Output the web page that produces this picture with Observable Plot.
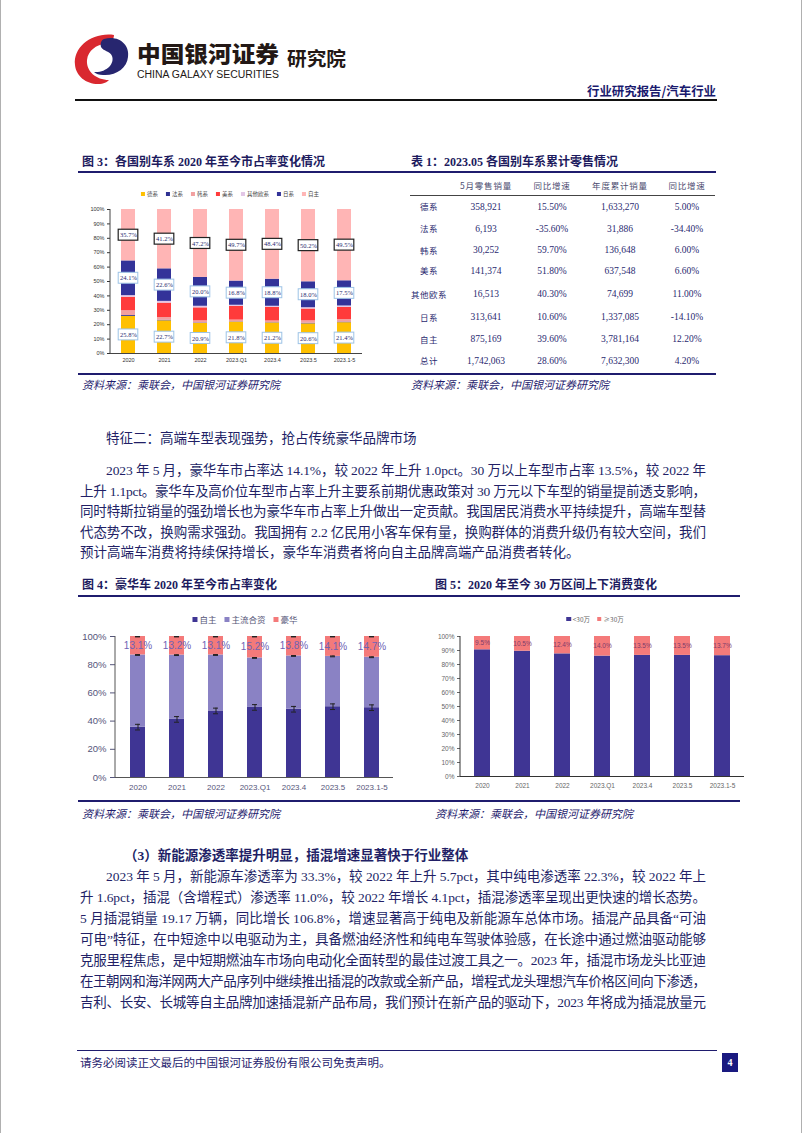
<!DOCTYPE html>
<html><head><meta charset="utf-8">
<script src="https://cdn.jsdelivr.net/npm/d3@7"></script>
<script src="https://cdn.jsdelivr.net/npm/@observablehq/plot@0.6"></script>
<style>
body{margin:0;background:#fff;}
#page{position:relative;width:802px;height:1133px;overflow:hidden;background:#fff;font-family:"Liberation Serif","Noto Sans CJK SC",serif;color:#221f66;}
.abs{position:absolute;white-space:pre;}
.legend{position:absolute;display:flex;align-items:center;white-space:nowrap;transform:translate(-50%,-50%);}
.legend span.sw{display:inline-block;margin-right:2px;}
.legend span.it{display:inline-flex;align-items:center;}
</style></head>
<body><div id="page"></div>
<script>
// ---------------- data ----------------
const cats = ["2020","2021","2022","2023.Q1","2023.4","2023.5","2023.1-5"];

// Figure 3: market share by origin (%)
const fig3Series = ["德系","法系","韩系","美系","其他欧系","日系","自主"];
const fig3German   = [25.8,22.7,20.9,21.8,21.2,20.6,21.4];
const fig3French   = [0.6,0.4,0.3,0.2,0.2,0.4,0.4];
const fig3Korean   = [3.3,1.9,1.5,1.2,1.2,1.7,1.8];
const fig3American = [9.4,10.0,9.0,9.5,9.4,8.2,8.4];
const fig3OtherEU  = [1.1,1.2,1.1,0.8,0.8,0.9,1.0];
const fig3Japanese = [24.1,22.6,20.0,16.8,18.8,18.0,17.5];
const fig3Domestic = [35.7,41.2,47.2,49.7,48.4,50.2,49.5];
const fig3Colors = ["#FFC000","#2E3192","#F2A0A0","#FF3B3B","#E2C6E6","#333399","#FFB5B5"];
const fig3Labeled = ["德系","日系","自主"];

// Table 1
const tableHeader = ["5月零售销量","同比增速","年度累计销量","同比增速"];
const tableNames  = ["德系","法系","韩系","美系","其他欧系","日系","自主","总计"];
const tableMay    = ["358,921","6,193","30,252","141,374","16,513","313,641","875,169","1,742,063"];
const tableMayYoY = ["15.50%","-35.60%","59.70%","51.80%","40.30%","10.60%","39.60%","28.60%"];
const tableYtd    = ["1,633,270","31,886","136,648","637,548","74,699","1,337,085","3,781,164","7,632,300"];
const tableYtdYoY = ["5.00%","-34.40%","6.00%","6.60%","11.00%","-14.10%","12.20%","4.20%"];

// Figure 4: luxury share (%)
const fig4Series = ["自主","主流合资","豪华"];
const fig4Domestic = [35.7,41.2,47.2,49.7,48.4,50.2,49.5];
const fig4JV       = [51.2,45.6,39.7,35.1,37.8,35.7,35.8];
const fig4Luxury   = [13.1,13.2,13.1,15.2,13.8,14.1,14.7];
const fig4ErrorBar = [2.0,0.3,0.3];
const fig4Colors = ["#3F3594","#8A82C4","#F47A7A"];

// Figure 5: above / below 300k (%)
const fig5Series = ["<30万","≥30万"];
const fig5Below = [90.5,89.5,87.6,86.0,86.5,86.5,86.3];
const fig5Above = [9.5,10.5,12.4,14.0,13.5,13.5,13.7];
const fig5Colors = ["#3F3594","#F47A7A"];

// ---------------- helpers ----------------
const page = document.getElementById("page");
const NAVY = "#1f1c6e";
function box(x, y, w, h, color){
  const d = document.createElement("div");
  d.style.cssText = `position:absolute;left:${x}px;top:${y}px;width:${w}px;height:${h}px;background:${color};`;
  page.appendChild(d); return d;
}
function hline(x1, x2, y, h, color){ return box(x1, y - h/2, x2 - x1, h, color); }
function text(str, x, cy, o = {}){
  const d = document.createElement("div");
  d.className = "abs";
  d.textContent = str;
  const size = o.size || 13.5, lh = Math.round(size * 1.5);
  d.style.fontSize = size + "px";
  d.style.lineHeight = lh + "px";
  d.style.left = x + "px";
  d.style.top = (cy - lh/2) + "px";
  if (o.weight) d.style.fontWeight = o.weight;
  if (o.color) d.style.color = o.color;
  if (o.italic) d.style.fontStyle = "italic";
  if (o.family) d.style.fontFamily = o.family;
  if (o.spacing) d.style.letterSpacing = o.spacing + "px";
  if (o.anchor === "middle") d.style.transform = "translateX(-50%)";
  if (o.anchor === "end") d.style.transform = "translateX(-100%)";
  page.appendChild(d);
  if (o.width){
    const nat = d.getBoundingClientRect().width;
    const n = [...str].length;
    d.style.letterSpacing = ((o.width - nat) / (n - 1)) + "px";
  }
  return d;
}
function legend(items, colors, cx, cy, size, sw, gap, color){
  const d = document.createElement("div");
  d.className = "legend";
  d.style.left = cx + "px"; d.style.top = cy + "px";
  d.style.fontSize = size + "px"; d.style.color = color;
  d.style.fontFamily = '"Noto Sans CJK SC", sans-serif';
  d.style.gap = gap + "px";
  items.forEach((t, i) => {
    const it = document.createElement("span"); it.className = "it";
    const s = document.createElement("span"); s.className = "sw";
    s.style.width = sw + "px"; s.style.height = sw + "px"; s.style.background = colors[i];
    it.appendChild(s); it.appendChild(document.createTextNode(t));
    d.appendChild(it);
  });
  page.appendChild(d);
}
function mount(svg, left, top){
  const d = document.createElement("div");
  d.style.cssText = `position:absolute;left:${left}px;top:${top}px;`;
  d.appendChild(svg); page.appendChild(d);
}
function stackRows(series, arrays){
  const rows = [];
  cats.forEach((c, ci) => {
    let base = 0;
    series.forEach((s, si) => {
      const v = arrays[si][ci];
      rows.push({cat: c, series: s, si, value: v, lo: base, hi: base + v, mid: base + v/2});
      base += v;
    });
  });
  return rows;
}
// y-axis line drawn by a render-function mark
function axisLineY(color){
  return (index, scales, values, dims) => {
    const l = document.createElementNS("http://www.w3.org/2000/svg", "line");
    l.setAttribute("x1", dims.marginLeft); l.setAttribute("x2", dims.marginLeft);
    l.setAttribute("y1", dims.marginTop); l.setAttribute("y2", dims.height - dims.marginBottom);
    l.setAttribute("stroke", color);
    return l;
  };
}

// ---------------- page chrome ----------------
box(0, 0, 1, 1133, "#b0b0b0");
box(801, 0, 1, 1133, "#b0b0b0");

const hdr = document.createElement("div");
hdr.style.cssText = "position:absolute;left:0;top:0;";
hdr.innerHTML = `<svg width="802" height="105" xmlns="http://www.w3.org/2000/svg">
  <path d="M114 35 C92 32 73 47 75 65 C76 76 86 84 98 84 C104 84 107 82 109 80 C96 80 86 71 87 60 C88 50 97 45 104 44 C110 43 114 40 114 35 Z" fill="#d9282f"/>
  <path d="M104 39 C119 35 130 45 128 57 C127 68 116 76 103 75 C99 75 96 74 94 72 C106 73 115 64 112 56 C110 51 103 51 101 47 C100 44 101 40 104 39 Z" fill="#27266f"/>
  <text x="137" y="62" font-family="Noto Sans CJK SC" font-weight="900" font-size="22" fill="#231815" textLength="142" lengthAdjust="spacingAndGlyphs">中国银河证券</text>
  <text x="137" y="77.5" font-family="Liberation Sans Narrow, Liberation Sans" font-size="10" fill="#231815" textLength="142" lengthAdjust="spacingAndGlyphs">CHINA GALAXY SECURITIES</text>
  <text x="287" y="66" font-family="Noto Sans CJK SC" font-weight="700" font-size="19" fill="#231815" textLength="59" lengthAdjust="spacingAndGlyphs">研究院</text>
  <text x="716" y="96" text-anchor="end" font-family="Noto Sans CJK SC" font-weight="700" font-size="12.5" fill="#1a1a6e" textLength="129" lengthAdjust="spacingAndGlyphs">行业研究报告/汽车行业</text>
  <line x1="75" x2="717" y1="100" y2="100" stroke="#111" stroke-width="2"/>
</svg>`;
page.appendChild(hdr);

const TITLE = {size: 12, weight: 700, color: "#1d1b5e", family: '"Liberation Serif","Noto Sans CJK SC",serif'};
const SRC = {size: 11, italic: true, color: NAVY, family: '"Noto Sans CJK SC",sans-serif'};

// ---------------- Figure 3 ----------------
text("图 3：各国别车系 2020 年至今市占率变化情况", 82, 162, TITLE);
text("表 1：2023.05 各国别车系累计零售情况", 411, 162, TITLE);
hline(78, 716, 171.5, 2, NAVY);
hline(78, 716, 373.5, 2, NAVY);
text("资料来源：乘联会，中国银河证券研究院", 82, 384, SRC);
text("资料来源：乘联会，中国银河证券研究院", 411, 384, SRC);

legend(fig3Series, fig3Colors, 230, 193.5, 5.5, 4, 8, "#444");

const rows3 = stackRows(fig3Series, [fig3German, fig3French, fig3Korean, fig3American, fig3OtherEU, fig3Japanese, fig3Domestic]);
const lab3 = rows3.filter(d => fig3Labeled.includes(d.series));
const fig3 = Plot.plot({
  width: 315, height: 170,
  marginLeft: 30, marginRight: 33, marginTop: 9, marginBottom: 17,
  style: {fontFamily: "Liberation Sans, sans-serif", fontSize: "5.5px", color: "#333", background: "transparent", overflow: "visible"},
  x: {type: "band", domain: cats, paddingInner: 0.6, paddingOuter: 0.28, label: null, tickSize: 0, tickPadding: 5},
  y: {domain: [0, 100], ticks: d3.range(0, 101, 10), tickFormat: d => d + "%", label: null, tickSize: 3, tickPadding: 3},
  color: {domain: fig3Series, range: fig3Colors},
  marks: [
    Plot.barY(rows3, Plot.stackY({x: "cat", y: "value", fill: "series"})),
    Plot.ruleY([0], {stroke: "#444"}),
    axisLineY("#444"),
    Plot.barY(lab3.filter(d => d.series !== "自主"), {x: "cat", y1: d => d.mid - 3.8, y2: d => d.mid + 3.8, fill: "white", stroke: "#9DC3E6", strokeWidth: 1, insetLeft: -2.8, insetRight: -2.8}),
    Plot.barY(lab3.filter(d => d.series === "自主"), {x: "cat", y1: d => d.mid - 3.8, y2: d => d.mid + 3.8, fill: "white", stroke: "#222", strokeWidth: 1.2, insetLeft: -2.8, insetRight: -2.8}),
    Plot.text(lab3, {x: "cat", y: "mid", text: d => d.value.toFixed(1) + "%", fill: "#2a2a70", fontSize: 6.5, fontFamily: "Liberation Serif, serif"})
  ]
});
mount(fig3, 80, 200);

// ---------------- Table 1 ----------------
const colX = [429, 486, 552, 620, 687];
const HDR = {size: 8.5, color: "#4d4d70", anchor: "middle", spacing: 0.8, family: '"Noto Sans CJK SC",sans-serif'};
tableHeader.forEach((h, i) => text(h, colX[i + 1], 185, HDR));
hline(410, 715, 195.7, 1.6, "#444");
const rowY = [206.7, 228.7, 250, 270.7, 294, 317.3, 339.3, 360.7];
const NUM = {size: 9.5, color: "#2a2a70", anchor: "middle", family: '"Liberation Serif",serif'};
tableNames.forEach((n, r) => {
  text(n, colX[0], rowY[r], {size: 8.5, color: "#2a2a70", anchor: "middle", spacing: 0.5, family: '"Noto Sans CJK SC",sans-serif'});
  text(tableMay[r], colX[1], rowY[r], NUM);
  text(tableMayYoY[r], colX[2], rowY[r], NUM);
  text(tableYtd[r], colX[3], rowY[r], NUM);
  text(tableYtdYoY[r], colX[4], rowY[r], NUM);
});

// ---------------- Body text 1 ----------------
const BODY = {size: 13.5, color: "#221f66"};
const L = 80, R = 706, IND = 106;
text("特征二：高端车型表现强势，抢占传统豪华品牌市场", IND, 439, BODY);
const p1 = [
  "2023 年 5 月，豪华车市占率达 14.1%，较 2022 年上升 1.0pct。30 万以上车型市占率 13.5%，较 2022 年",
  "上升 1.1pct。豪华车及高价位车型市占率上升主要系前期优惠政策对 30 万元以下车型的销量提前透支影响，",
  "同时特斯拉销量的强劲增长也为豪华车市占率上升做出一定贡献。我国居民消费水平持续提升，高端车型替",
  "代态势不改，换购需求强劲。我国拥有 2.2 亿民用小客车保有量，换购群体的消费升级仍有较大空间，我们",
  "预计高端车消费将持续保持增长，豪华车消费者将向自主品牌高端产品消费者转化。"
];
p1.forEach((s, i) => {
  const x = i === 0 ? IND : L;
  text(s, x, 471 + i * 20.5, Object.assign({}, BODY, i < p1.length - 1 ? {width: R - x} : {}));
});

// ---------------- Figure 4 ----------------
text("图 4：豪华车 2020 年至今市占率变化", 82, 585, TITLE);
text("图 5：2020 年至今 30 万区间上下消费变化", 435, 585, TITLE);
hline(78, 740, 595.5, 2, NAVY);
hline(78, 740, 800.5, 2, NAVY);
text("资料来源：乘联会，中国银河证券研究院", 82, 813, SRC);
text("资料来源：乘联会，中国银河证券研究院", 435, 813, SRC);

legend(fig4Series, fig4Colors, 245, 619, 8.5, 5, 8, "#555577");
const rows4 = stackRows(fig4Series, [fig4Domestic, fig4JV, fig4Luxury]);
const err4 = rows4.map(d => Object.assign({}, d, {err: fig4ErrorBar[d.si]}));
const fig4 = Plot.plot({
  width: 315, height: 172,
  marginLeft: 35, marginRight: 2, marginTop: 8, marginBottom: 23,
  style: {fontFamily: "Liberation Sans Narrow, Liberation Sans, sans-serif", fontSize: "9.5px", color: "#55557a", background: "transparent", overflow: "visible"},
  x: {type: "band", domain: cats, paddingInner: 0.62, paddingOuter: 0.3, label: null, tickSize: 0, tickPadding: 7},
  y: {domain: [0, 100], ticks: d3.range(0, 101, 20), tickFormat: d => d + "%", label: null, tickSize: 5, tickPadding: 4},
  color: {domain: fig4Series, range: fig4Colors},
  marks: [
    Plot.axisX({fontSize: 8, tickSize: 0, tickPadding: 7}),
    Plot.axisY({ticks: d3.range(0, 101, 20), tickFormat: d => d + "%", tickSize: 5, tickPadding: 4, label: null}),
    Plot.barY(rows4, Plot.stackY({x: "cat", y: "value", fill: "series"})),
    Plot.ruleY([0], {stroke: "#555"}),
    axisLineY("#555"),
    Plot.ruleX(err4, {x: "cat", y1: d => d.hi - d.err, y2: d => Math.min(100, d.hi + d.err), stroke: "#222"}),
    Plot.tickY(err4, {x: "cat", y: d => d.hi - d.err, stroke: "#222", insetLeft: 5, insetRight: 5}),
    Plot.tickY(err4, {x: "cat", y: d => Math.min(100, d.hi + d.err), stroke: "#222", insetLeft: 5, insetRight: 5}),
    Plot.text(rows4.filter(d => d.series === "豪华"), {x: "cat", y: "mid", text: d => d.value.toFixed(1) + "%", fill: "#6f63b5", fontSize: 10})
  ]
});
mount(fig4, 80, 628);

// ---------------- Figure 5 ----------------
legend(fig5Series, fig5Colors, 595, 619, 6.5, 4.5, 7, "#666");
const rows5 = stackRows(fig5Series, [fig5Below, fig5Above]);
const fig5 = Plot.plot({
  width: 350, height: 172,
  marginLeft: 60, marginRight: 6, marginTop: 8, marginBottom: 24,
  style: {fontFamily: "Liberation Sans, sans-serif", fontSize: "6.5px", color: "#666", background: "transparent", overflow: "visible"},
  x: {type: "band", domain: cats, paddingInner: 0.6, paddingOuter: 0.28, label: null, tickSize: 0, tickPadding: 7},
  y: {domain: [0, 100], ticks: d3.range(0, 101, 10), tickFormat: d => d + "%", label: null, tickSize: 3, tickPadding: 3},
  color: {domain: fig5Series, range: fig5Colors},
  marks: [
    Plot.barY(rows5, Plot.stackY({x: "cat", y: "value", fill: "series"})),
    Plot.ruleY([0], {stroke: "#333"}),
    axisLineY("#333"),
    Plot.text(rows5.filter(d => d.series === "≥30万"), {x: "cat", y: "mid", text: d => d.value.toFixed(1) + "%", fill: "#7d3c6b", fontSize: 6.5})
  ]
});
mount(fig5, 400, 628);

// ---------------- Body text 2 ----------------
text("（3）新能源渗透率提升明显，插混增速显著快于行业整体", 124, 856, Object.assign({}, BODY, {weight: 700}));
const p2 = [
  "2023 年 5 月，新能源车渗透率为 33.3%，较 2022 年上升 5.7pct，其中纯电渗透率 22.3%，较 2022 年上",
  "升 1.6pct，插混（含增程式）渗透率 11.0%，较 2022 年增长 4.1pct，插混渗透率呈现出更快速的增长态势。",
  "5 月插混销量 19.17 万辆，同比增长 106.8%，增速显著高于纯电及新能源车总体市场。插混产品具备“可油",
  "可电”特征，在中短途中以电驱动为主，具备燃油经济性和纯电车驾驶体验感，在长途中通过燃油驱动能够",
  "克服里程焦虑，是中短期燃油车市场向电动化全面转型的最佳过渡工具之一。2023 年，插混市场龙头比亚迪",
  "在王朝网和海洋网两大产品序列中继续推出插混的改款或全新产品，增程式龙头理想汽车价格区间向下渗透，",
  "吉利、长安、长城等自主品牌加速插混新产品布局，我们预计在新产品的驱动下，2023 年将成为插混放量元"
];
p2.forEach((s, i) => {
  const x = i === 0 ? IND : L;
  text(s, x, 877 + i * 21, Object.assign({}, BODY, {width: R - x}));
});

// ---------------- Footer ----------------
hline(77, 717, 1050.5, 1.5, NAVY);
text("请务必阅读正文最后的中国银河证券股份有限公司免责声明。", 80, 1063, {size: 11.5, color: NAVY});
box(722, 1053, 16, 19, "#1a1a80");
text("4", 730, 1062.5, {size: 10, weight: 700, color: "#fff", anchor: "middle"});
</script>
</body></html>
